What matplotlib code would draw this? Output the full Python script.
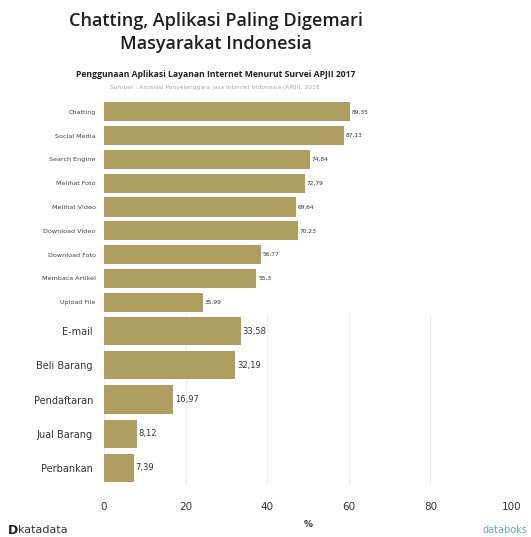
import matplotlib.pyplot as plt
import numpy as np

# data (two stacked panels with different scales)
top_apps = ["Chatting", "Social Media", "Search Engine", "Melihat Foto", "Melihat Video",
            "Download Video", "Download Foto", "Membaca Artikel", "Upload File"]
top_vals = [89.35, 87.13, 74.84, 72.79, 69.64, 70.23, 56.77, 55.3, 35.99]

bot_apps = ["E-mail", "Beli Barang", "Pendaftaran", "Jual Barang", "Perbankan"]
bot_vals = [33.58, 32.19, 16.97, 8.12, 7.39]

xticks = [0, 20, 40, 60, 80, 100]

bar_color = "#ae9e5f"
W, H = 531, 537

fig = plt.figure(figsize=(W / 100, H / 100), dpi=100)

def fx(px):
    return px / W

def fy(py):
    return 1 - py / H

left, right = 104, 512

# top panel (smaller scale)
ax1 = fig.add_axes([fx(left), fy(314), fx(right - left), (314 - 100) / H])
y1 = np.arange(len(top_apps))
ax1.barh(y1, top_vals, height=0.8, color=bar_color)
ax1.set_xlim(0, 148)
ax1.set_ylim(len(top_apps) - 0.5, -0.5)
ax1.set_yticks(y1)
ax1.set_yticklabels(top_apps, fontsize=4.6, color="#444444")
ax1.set_xticks([])
ax1.tick_params(axis="y", length=0, pad=6)
for s in ax1.spines.values():
    s.set_visible(False)
for yi, v in zip(y1, top_vals):
    ax1.text(v + 0.6, yi, str(v).replace(".", ","), va="center", fontsize=4.2, color="#333333")

# bottom panel (axis 0-100)
ax2 = fig.add_axes([fx(left), fy(485), fx(right - left), (485 - 314) / H])
y2 = np.arange(len(bot_apps))
ax2.barh(y2, bot_vals, height=0.82, color=bar_color, zorder=2)
ax2.set_xlim(0, 100)
ax2.set_ylim(len(bot_apps) - 0.5, -0.5)
ax2.set_yticks(y2)
ax2.set_yticklabels(bot_apps, fontsize=7, color="#333333")
ax2.set_xticks(xticks)
ax2.set_xticklabels([str(t) for t in xticks], fontsize=7.5, color="#333333")
ax2.tick_params(axis="y", length=0, pad=8)
ax2.tick_params(axis="x", length=0, pad=12)
ax2.grid(axis="x", color="#eeeeee", linewidth=0.8, zorder=0)
for s in ax2.spines.values():
    s.set_visible(False)
for yi, v in zip(y2, bot_vals):
    ax2.text(v + 0.4, yi, str(v).replace(".", ","), va="center", fontsize=6, color="#333333")
ax2.set_xlabel("%", fontsize=6.5, fontweight="bold", color="#333333", labelpad=6)

# titles
fig.text(fx(216), fy(21), "Chatting, Aplikasi Paling Digemari", ha="center", va="center",
         fontsize=13, fontweight="semibold", family="Open Sans", color="#1e1e1e")
fig.text(fx(216), fy(44), "Masyarakat Indonesia", ha="center", va="center",
         fontsize=13, fontweight="semibold", family="Open Sans", color="#1e1e1e")
fig.text(fx(216), fy(74), "Penggunaan Aplikasi Layanan Internet Menurut Survei APJII 2017",
         ha="center", va="center", fontsize=6.2, fontweight="bold", family="Open Sans",
         color="#222222")
fig.text(fx(215), fy(88), "Sumber : Asosiasi Penyelenggara Jasa Internet Indonesia (APJII), 2018",
         ha="center", va="center", fontsize=4.3, color="#aaaaaa")

# footer
fig.text(fx(8), fy(530), "D", ha="left", va="center", fontsize=9, fontweight="bold", color="#222222")
fig.text(fx(18), fy(530), "katadata", ha="left", va="center", fontsize=8, color="#333333")
fig.text(fx(527), fy(530), "databoks", ha="right", va="center", fontsize=7, color="#6aa7b5")

fig.savefig("out.png", dpi=100)
